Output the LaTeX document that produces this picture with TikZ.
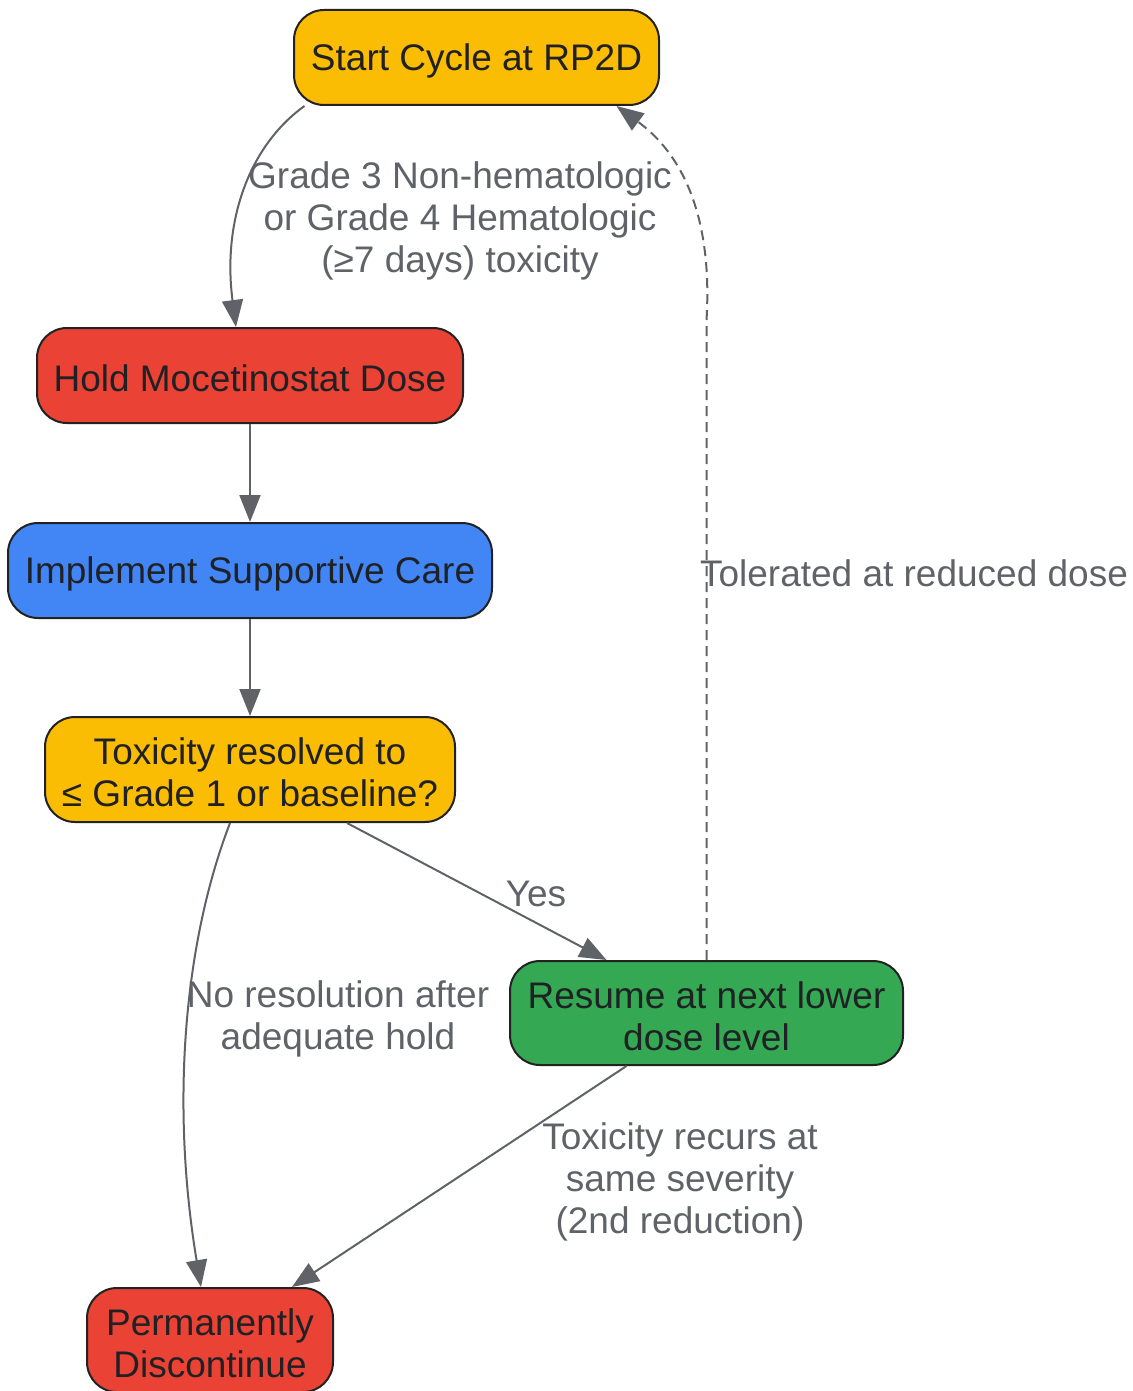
\documentclass[tikz,border=0pt]{standalone}
\usepackage{fontspec}
\setmainfont{Liberation Sans}
\usetikzlibrary{arrows.meta}
\definecolor{cyel}{HTML}{FBBC04}
\definecolor{cred}{HTML}{EA4335}
\definecolor{cblue}{HTML}{4285F4}
\definecolor{cgreen}{HTML}{34A853}
\definecolor{cbord}{HTML}{222222}
\definecolor{ctext}{HTML}{202124}
\definecolor{cgray}{HTML}{5F6368}
\begin{document}
\begin{tikzpicture}[x=1pt,y=-1pt,
  box/.style={draw=cbord, line width=2pt, rounded corners=30pt, inner sep=0pt},
  txt/.style={text=ctext, align=center, inner sep=0pt, yshift=-3pt, font=\fontsize{37}{42}\selectfont},
  lbl/.style={text=cgray, align=center, inner sep=0pt, font=\fontsize{37}{42}\selectfont},
  conn/.style={draw=cgray, line width=2pt, -{Triangle[length=27pt,width=21pt]}}]
\useasboundingbox (0,0) rectangle (1132,1391);
\node[box, fill=cyel, minimum width=365pt, minimum height=95pt, label={[txt]center:Start Cycle at RP2D}] (start) at (476.5,57.5) {};
\node[box, fill=cred, minimum width=426pt, minimum height=95pt, label={[txt]center:Hold Mocetinostat Dose}] (hold) at (250,375.5) {};
\node[box, fill=cblue, minimum width=484pt, minimum height=95pt, label={[txt]center:Implement Supportive Care}] (care) at (250,570.5) {};
\node[box, fill=cyel, minimum width=410pt, minimum height=105pt, label={[txt]center:{Toxicity resolved to\\≤ Grade 1 or baseline?}}] (tox) at (250,769.5) {};
\node[box, fill=cgreen, minimum width=393pt, minimum height=104pt, label={[txt]center:{Resume at next lower\\dose level}}] (res) at (706.5,1013) {};
\node[box, fill=cred, minimum width=246pt, minimum height=104pt, label={[txt]center:{Permanently\\Discontinue}}] (perm) at (210,1340) {};

\draw[conn] ([xshift=-172pt]start.south) .. controls (250,145) and (222,220) .. ([xshift=-14pt]hold.north);
\draw[conn] (hold.south) -- (care.north);
\draw[conn] (care.south) -- (tox.north);
\draw[conn] ([xshift=97pt]tox.south) -- ([xshift=-100pt]res.north);
\draw[conn] ([xshift=-20pt]tox.south) .. controls (185,940) and (170,1100) .. ([xshift=-9pt]perm.north);
\draw[conn] ([xshift=-80pt]res.south) -- ([xshift=82pt]perm.north);
\draw[conn, dashed, dash pattern=on 10pt off 6pt] (res.north) -- (706.5,320) .. controls (712,230) and (690,160) .. ([xshift=140pt]start.south);

\node[lbl] (l1) at (460,221) {Grade 3 Non-hematologic\\or Grade 4 Hematologic\\(≥7 days) toxicity};
\node[lbl] (l2) at (536,894) {Yes};
\node[lbl] (l3) at (338,1019) {No resolution after\\adequate hold};
\node[lbl] (l4) at (680,1182) {Toxicity recurs at\\same severity\\(2nd reduction)};
\node[lbl] (l5) at (914,573) {Tolerated at reduced dose};
\end{tikzpicture}
\end{document}
